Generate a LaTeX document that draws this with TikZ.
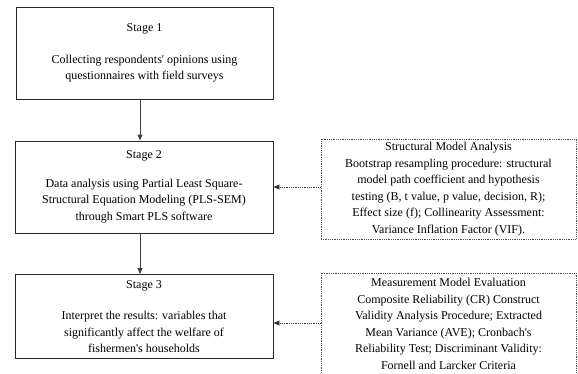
\documentclass[tikz,border=0pt]{standalone}
\usepackage{fontspec}
\setmainfont{Liberation Serif}[Ligatures=TeXOff]
\usetikzlibrary{arrows.meta}
\begin{document}
\begin{tikzpicture}[x=1pt,y=-1pt,
  txt/.style={font=\fontsize{12}{16.5}\selectfont, align=center, text=black},
  stagebox/.style={txt, draw=black!85, line width=0.9pt, rectangle, inner sep=0pt},
  infobox/.style={txt, draw=black!70, densely dotted, line width=0.8pt, rectangle, inner sep=0pt},
  flow/.style={draw=black!75, line width=0.9pt, -{Triangle[length=6pt,width=5pt]}},
  feed/.style={draw=black!80, densely dotted, line width=0.8pt, -{Triangle[length=6pt,width=5pt]}}]
\useasboundingbox (0,0) rectangle (578,373);
\node[stagebox, minimum width=257pt, minimum height=92pt] (s1) at (144.5,53)
  {Stage 1\\[15pt]Collecting respondents' opinions using\\questionnaires with field surveys};
\node[stagebox, minimum width=258pt, minimum height=92pt] (s2) at (144,187)
  {Stage 2\\[12pt]Data analysis using Partial Least Square-\\Structural Equation Modeling (PLS-SEM)\\through Smart PLS software};
\node[stagebox, minimum width=258pt, minimum height=84pt] (s3) at (144,316.5)
  {Stage 3\\[15pt]Interpret the results: variables that\\significantly affect the welfare of\\fishermen's households};
\node[infobox, minimum width=255pt, minimum height=100pt] (d1) at (448.5,189)
  {Structural Model Analysis\\Bootstrap resampling procedure: structural\\model path coefficient and hypothesis\\testing (B, t value, p value, decision, R);\\Effect size (f); Collinearity Assessment:\\Variance Inflation Factor (VIF).};
\node[infobox, minimum width=255pt, minimum height=102pt] (d2) at (448.5,324)
  {Measurement Model Evaluation\\Composite Reliability (CR) Construct\\Validity Analysis Procedure; Extracted\\Mean Variance (AVE); Cronbach's\\Reliability Test; Discriminant Validity:\\Fornell and Larcker Criteria};
\coordinate (ax) at (140,0);
\draw[flow] (s1.south -| ax) -- (s2.north -| ax);
\draw[flow] (s2.south -| ax) -- (s3.north -| ax);
\draw[feed] (d1.west |- 0,187) -- (s2.east |- 0,187);
\draw[feed] (d2.west |- 0,323) -- (s3.east |- 0,323);
\end{tikzpicture}
\end{document}
